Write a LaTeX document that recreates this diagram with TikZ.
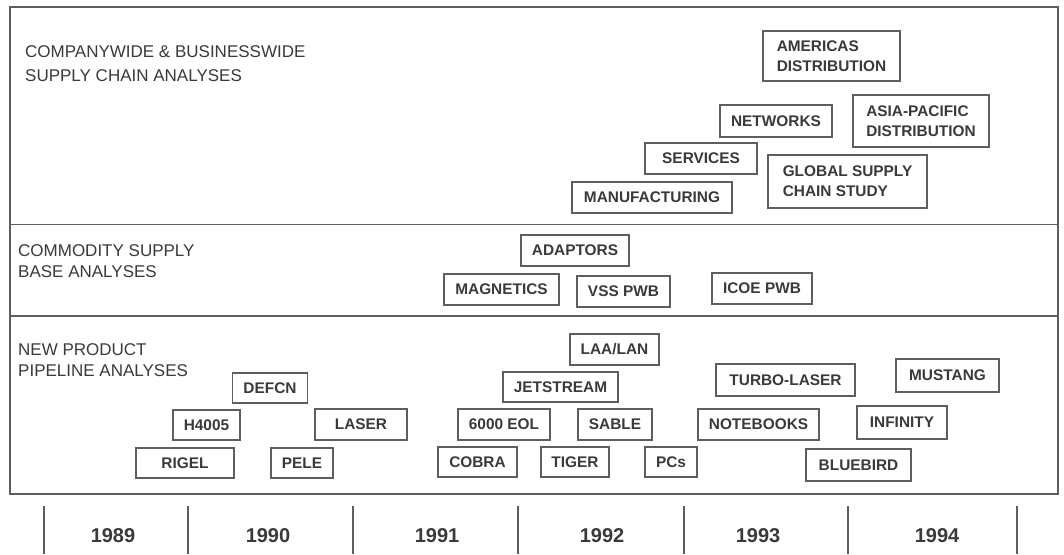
\documentclass[tikz,border=0pt]{standalone}
\usepackage{fontspec}
\setmainfont{Liberation Sans}
\definecolor{ln}{HTML}{5E5E5E}
\definecolor{tx}{HTML}{3A3A3A}
\begin{document}
\begin{tikzpicture}[x=1pt,y=-1pt,
  bx/.style={draw=ln, line width=1.3pt, inner sep=0pt, text=tx,
    font=\bfseries\fontsize{15.4}{20}\selectfont},
  sec/.style={anchor=base west, align=left, inner sep=0pt, text=tx,
    font=\fontsize{17}{21}\selectfont},
  frame/.style={draw=ln, line width=1.4pt},
  yr/.style={anchor=base, inner sep=0pt, text=tx,
    font=\bfseries\fontsize{20}{24}\selectfont},
  tick/.style={draw=ln, line width=1.3pt}]
\useasboundingbox[fill=white] (0,0) rectangle (1064,554);
% frame
\draw[frame] (10,7) rectangle (1058,494);
\draw[frame] (10,224.5) -- (1058,224.5);
\draw[frame] (10,316) -- (1058,316);
% section labels (base = baseline of last line)
\node[sec, font=\fontsize{17}{24}\selectfont] (s1) at (25,81) {COMPANYWIDE \& BUSINESSWIDE\\SUPPLY CHAIN ANALYSES};
\node[sec] (s2) at (18,277) {COMMODITY SUPPLY\\BASE ANALYSES};
\node[sec] (s3) at (18,376) {NEW PRODUCT\\PIPELINE ANALYSES};
% top section boxes
\node[bx, align=left, minimum width=137, minimum height=50] (amer) at (831.5,56) {AMERICAS\\DISTRIBUTION};
\node[bx, minimum width=112, minimum height=32] (netw) at (776,121) {NETWORKS};
\node[bx, align=left, minimum width=136, minimum height=52] (asia) at (921,121) {ASIA-PACIFIC\\DISTRIBUTION};
\node[bx, minimum width=112, minimum height=31] (serv) at (701,158.5) {SERVICES};
\node[bx, align=left, minimum width=159, minimum height=53] (glob) at (847.5,181.5) {GLOBAL SUPPLY\\CHAIN STUDY};
\node[bx, minimum width=160, minimum height=31] (manu) at (652,197.5) {MANUFACTURING};
% commodity boxes
\node[bx, minimum width=108, minimum height=31] (adap) at (575,250.5) {ADAPTORS};
\node[bx, minimum width=115, minimum height=31] (magn) at (501.5,289.5) {MAGNETICS};
\node[bx, minimum width=93, minimum height=31] (vss) at (623.5,291.5) {VSS PWB};
\node[bx, minimum width=100, minimum height=31] (icoe) at (762,288.5) {ICOE PWB};
% new product boxes
\node[bx, minimum width=89, minimum height=31] (laa) at (614.5,349.5) {LAA/LAN};
\node[bx, minimum width=115, minimum height=30] (jets) at (560.5,387) {JETSTREAM};
\node[bx, minimum width=139, minimum height=32] (turbo) at (785.5,380) {TURBO-LASER};
\node[bx, minimum width=103, minimum height=33] (must) at (947.5,375.5) {MUSTANG};
\node[bx, minimum width=75, minimum height=30] (defcn) at (270,388) {DEFCN};
\node[bx, minimum width=67, minimum height=30] (h4005) at (206.5,425) {H4005};
\node[bx, minimum width=92, minimum height=31] (laser) at (361,424.5) {LASER};
\node[bx, minimum width=98, minimum height=30] (rigel) at (185,463) {RIGEL};
\node[bx, minimum width=62, minimum height=30] (pele) at (302,463) {PELE};
\node[bx, minimum width=92, minimum height=31] (eol) at (504,424.5) {6000 EOL};
\node[bx, minimum width=74, minimum height=31] (sable) at (615,424.5) {SABLE};
\node[bx, minimum width=121, minimum height=31] (note) at (758.5,424.5) {NOTEBOOKS};
\node[bx, minimum width=90, minimum height=33] (infin) at (902,422.5) {INFINITY};
\node[bx, minimum width=79, minimum height=30] (cobra) at (477.5,462) {COBRA};
\node[bx, minimum width=68, minimum height=30] (tiger) at (575,462) {TIGER};
\node[bx, minimum width=52, minimum height=30] (pcs) at (671,462) {PCs};
\node[bx, minimum width=105, minimum height=32] (blue) at (858.5,465) {BLUEBIRD};
% timeline
\foreach \x in {44,188,353,518,684,848,1017}{\draw[tick] (\x,506) -- (\x,554);}
\node[yr] (y89) at (113,542) {1989};
\node[yr] (y90) at (268,542) {1990};
\node[yr] (y91) at (437,542) {1991};
\node[yr] (y92) at (602,542) {1992};
\node[yr] (y93) at (758,542) {1993};
\node[yr] (y94) at (937,542) {1994};
\end{tikzpicture}
\end{document}
